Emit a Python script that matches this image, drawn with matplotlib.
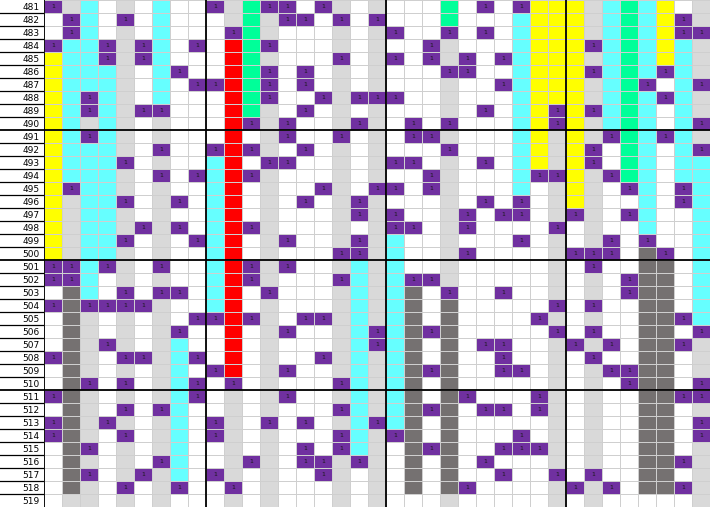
import numpy as np
import matplotlib
matplotlib.use("Agg")
import matplotlib.pyplot as plt
from matplotlib.colors import ListedColormap

# Row labels
row_labels = list(range(481, 520))

# Cell codes per row (37 columns): w white, g light gray, c cyan, e green,
# y yellow, r red, d dark gray, p purple cell holding "1"
grid_rows = [
    "pgcwgwcww" "pgeppwpgwg" "wwwewpwpyy" "ygcecywg",  # 481
    "wpcwpwcww" "wgegppwpwp" "wwwewwwcyy" "ygcecypg",  # 482
    "wpcwgwcww" "wpegwwwgwg" "pwwpwpwcyy" "ygcecypp",  # 483
    "pccpgpcwp" "wrepwwwgwg" "wwpgwwwcyy" "ypcecycg",  # 484
    "yccpgpcww" "wregwwwpwg" "pwpgpwpcyy" "ygcecycg",  # 485
    "ycccgwcpw" "wrepwpwgwg" "wwwppwwcyy" "ypcecpcg",  # 486
    "ycccgwcwp" "prepwpwgwg" "wwwgwwpcyy" "ygcepwcp",  # 487
    "ycpcgwcww" "wrepwwpgpp" "pwwgwwwcyy" "ygcecpcg",  # 488
    "ycpcgppww" "wregwpwgwg" "wwwgwpwcyp" "ypcecwcg",  # 489
    "ycgcgwgww" "wrpgpwwgpg" "wpwpwwwcyp" "ygcecwcp",  # 490
    "ycpcgwgww" "wrwgpwwpwg" "wppgwwwcyg" "ygpecpcg",  # 491
    "ycccgwpww" "prpgwpwgwg" "wwwpwwwcyg" "ypwecwcp",  # 492
    "ycccpwgww" "crwppwwgwg" "ppwgwpwcyg" "ypwecwcc",  # 493
    "ycccgwpwp" "crpgwwwgwg" "wwpgwwwcpp" "ygpecwcc",  # 494
    "ypccgwgww" "crwgwwpgwp" "pwpgwwwcwg" "ygwpcwpc",  # 495
    "ygccpwgpw" "crwgwpwgpg" "wwwgwpwpwg" "ygwwcwpc",  # 496
    "ygccgwgww" "crwgwwwgpg" "pwwgpwppwg" "pgwpcwwc",  # 497
    "ygccgpgpw" "crpgwwwgwg" "ppwgpwwwwp" "wgwwcwwc",  # 498
    "ygccpwgwp" "crwgpwwgpg" "cwwgwwwpwg" "wgpwpwwc",  # 499
    "ygccgwgww" "crwgwwwppg" "cwwgpwwwwg" "pppwdpwc",  # 500
    "ppcpgwpww" "crpgpwwgcg" "cwwgwwwwwg" "wpwwddwc",  # 501
    "ppcwgwgww" "crpgwwwpcg" "cppgwwwwwg" "wgwpddwc",  # 502
    "wdcwpwppw" "crwpwwwgcg" "cdwpwwpwwg" "wgwpddwc",  # 503
    "pdppppgww" "crwgwwwgcg" "cdwdwwwwwp" "wpwwddwc",  # 504
    "wdgwgwgwp" "prpgwppgcg" "cdwdwwwwpg" "wgwwddpc",  # 505
    "wdgwgwgpw" "wrwgpwwgcp" "cdpdwwwwwp" "wpwwddwp",  # 506
    "wdgpgwgcw" "wrwgwwwgcp" "cdwdwppwwg" "pgpwddpg",  # 507
    "pdgwppgcp" "wrwgwwpgcg" "cdwdwwpwwg" "wpwwddwg",  # 508
    "wdgwgwgcw" "prwgpwwgcg" "cdpdwwppwg" "wgppddwg",  # 509
    "wdpwpwgcp" "wpwgwwwpcg" "cdwdwwwwwg" "wgwpddwp",  # 510
    "pdgwgwgcp" "wgwgpwwgcg" "cdwdpwwwpg" "wgwwddpp",  # 511
    "wdgwpwpcw" "wgwgwwwpcg" "cdpdwppwpg" "wgwwddwg",  # 512
    "pdgpgwgcw" "pgwpwpwgcp" "cdwdwwwwwg" "wgwwddwp",  # 513
    "pdgwpwgcw" "pgwgwwwpcg" "pdwdwwwpwg" "wgwwddwp",  # 514
    "wdpwgwgcw" "wgwgwpwpcg" "wdpdwwpppg" "wgwwddwg",  # 515
    "wdgwgwpcw" "wgpgwppgpg" "wdwdwpwwwg" "wgwwddpg",  # 516
    "wdpwgpgcw" "pgwgwwpgwg" "wdwdwwpwwp" "wpwwddwg",  # 517
    "wdgwpwgpw" "wpwgwwwgwg" "wdwdpwwwwg" "pgpwddpg",  # 518
    "wggwgwgww" "wgwgwwwgwg" "wwwgwwwwwg" "wgwwwwwg",  # 519
]

codes = "wgceyrdp"
palette = ["#ffffff", "#d9d9d9", "#66ffff", "#00ff99",
           "#ffff00", "#ff0000", "#757171", "#7030a0"]

n_rows = len(grid_rows)
n_cols = len(grid_rows[0])
for r in grid_rows:
    assert len(r) == n_cols, r

M = np.array([[codes.index(ch) for ch in r] for r in grid_rows])

W, H = 710, 507
fig = plt.figure(figsize=(W / 100, H / 100), dpi=100)

label_w = 44
ax = fig.add_axes([label_w / W, 0, 1 - label_w / W, 1])
cmap = ListedColormap(palette)
ax.pcolormesh(np.arange(n_cols + 1), np.arange(n_rows + 1), M, cmap=cmap,
              vmin=-0.5, vmax=len(palette) - 0.5,
              edgecolors="#cfcfcf", linewidth=0.7)
ax.set_xlim(0, n_cols)
ax.set_ylim(n_rows, 0)
ax.axis("off")

for i in range(n_rows):
    for j in range(n_cols):
        if grid_rows[i][j] == "p":
            ax.text(j + 0.5, i + 0.5, "1", ha="center", va="center",
                    fontsize=4.5, color="#1a1a1a")

for xb in [9, 19, 29]:
    ax.axvline(xb, color="black", lw=1.3)
for yb in [10, 20, 30]:
    ax.axhline(yb, color="black", lw=1.3)
ax.axvline(0, color="black", lw=1.3)

# Row label column
lax = fig.add_axes([0, 0, label_w / W, 1])
lax.set_xlim(0, 1)
lax.set_ylim(n_rows, 0)
lax.axis("off")
for i, lab in enumerate(row_labels):
    lax.text(0.9, i + 0.55, str(lab), ha="right", va="center",
             fontsize=6.5, color="black", family="DejaVu Sans")
for i in range(1, n_rows):
    lax.axhline(i, color="black", lw=0.9 if i % 10 else 1.3)

fig.savefig("out.png", dpi=100)
